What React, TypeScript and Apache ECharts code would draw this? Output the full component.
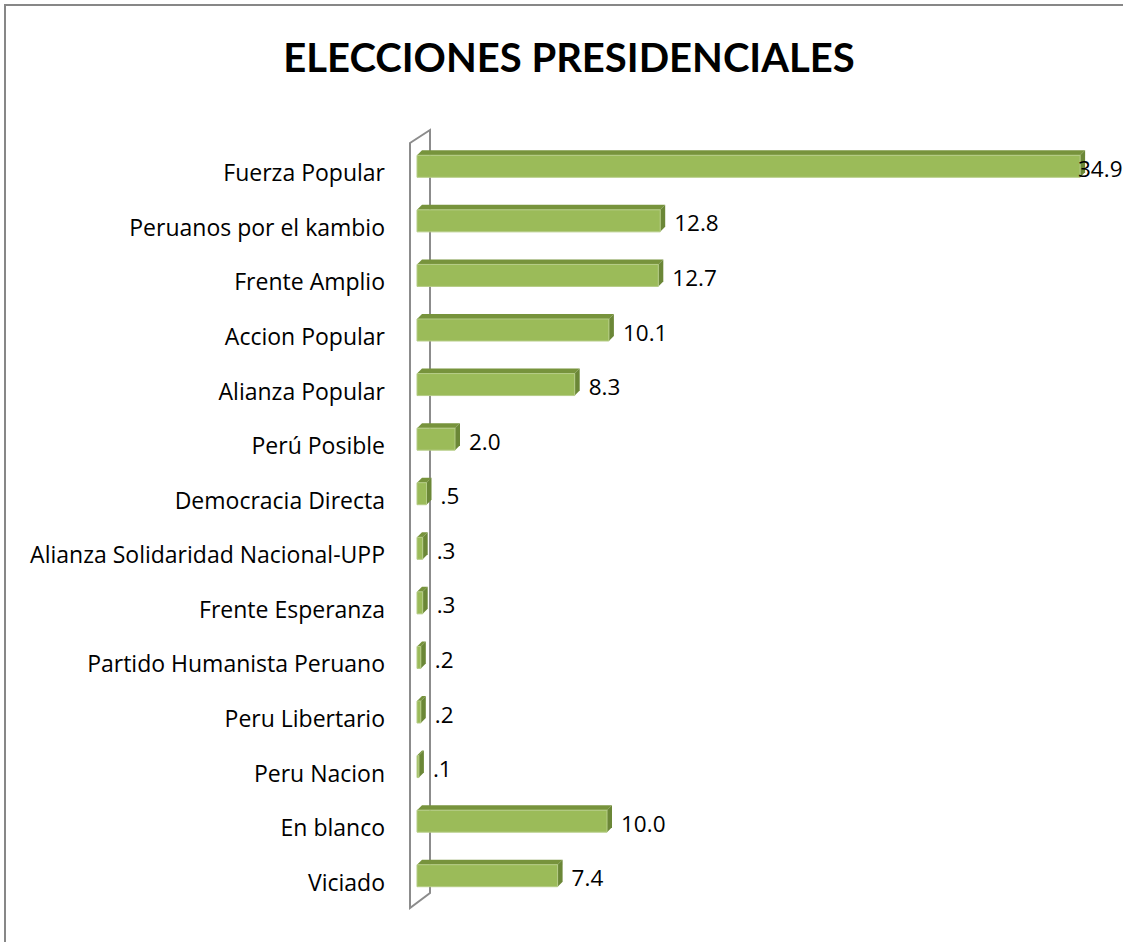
import React, { useEffect, useRef } from "react";
import * as echarts from "echarts";

const categories = [
  "Fuerza Popular",
  "Peruanos por el kambio",
  "Frente Amplio",
  "Accion Popular",
  "Alianza Popular",
  "Perú Posible",
  "Democracia Directa",
  "Alianza Solidaridad Nacional-UPP",
  "Frente Esperanza",
  "Partido Humanista Peruano",
  "Peru Libertario",
  "Peru Nacion",
  "En blanco",
  "Viciado",
];
const values = [34.9, 12.8, 12.7, 10.1, 8.3, 2.0, 0.5, 0.3, 0.3, 0.2, 0.2, 0.1, 10.0, 7.4];
const titleText = "ELECCIONES PRESIDENCIALES";
const axisMax = 35;

const FONT = "'Open Sans', sans-serif";
const TITLE_FONT = "Lato, sans-serif";
const GRID_LEFT = 417;
const GRID_RIGHT = 41;
const GRID_TOP = 139;
const GRID_BOTTOM = 39;

function fmt(v: number) {
  return v.toFixed(1).replace(/^0(?=\.)/, "");
}

export default function App() {
  const ref = useRef<HTMLDivElement>(null);
  useEffect(() => {
    if (!ref.current) return;
    const chart = echarts.init(ref.current, undefined, { renderer: "svg" });
    const H = 942;
    const wallTop = GRID_TOP + 4;
    const wallBottom = H - GRID_BOTTOM + 5;
    const wx = 410;
    chart.setOption({
      animation: false,
      backgroundColor: "#fff",
      graphic: [
        {
          type: "rect",
          z: 0,
          shape: { x: 5, y: 5, width: 1140, height: 960 },
          style: { fill: "none", stroke: "#878787", lineWidth: 2 },
        },
        {
          type: "polygon",
          z: 0,
          shape: {
            points: [
              [wx, wallTop],
              [wx + 20, wallTop - 13],
              [wx + 20, wallBottom - 15],
              [wx, wallBottom],
            ],
          },
          style: { fill: "#fff", stroke: "#8c8c8c", lineWidth: 2 },
        },
        {
          type: "text",
          z: 10,
          x: 569,
          y: 57,
          style: {
            text: titleText,
            font: `bold 40px ${TITLE_FONT}`,
            fill: "#000",
            textAlign: "center",
            textVerticalAlign: "middle",
          },
        },
      ],
      grid: { left: GRID_LEFT, right: GRID_RIGHT, top: GRID_TOP, bottom: GRID_BOTTOM },
      xAxis: {
        type: "value",
        min: 0,
        max: axisMax,
        show: false,
      },
      yAxis: {
        type: "category",
        inverse: true,
        data: categories,
        axisLine: { show: false },
        axisTick: { show: false },
        splitLine: { show: false },
        axisLabel: { show: false },
      },
      series: [
        {
          type: "custom",
          z: 5,
          encode: { x: 0, y: 1 },
          data: values.map((v, i) => [v, i]),
          renderItem: (params: any, api: any) => {
            const v = api.value(0);
            const idx = api.value(1);
            const s = api.coord([0, idx]);
            const e = api.coord([v, idx]);
            const bandH = api.size([0, 1])[1];
            const h = bandH * 0.403;
            const y0 = s[1] - h / 2;
            const y1 = s[1] + h / 2;
            const x0 = s[0];
            const x1 = e[0];
            const dx = 5;
            const dy = 5;
            const lx = Math.min(x1 + dx + 9, 1078);
            return {
              type: "group",
              children: [
                {
                  type: "polygon",
                  shape: { points: [[x0, y0], [x0 + dx, y0 - dy], [x1 + dx, y0 - dy], [x1, y0]] },
                  style: { fill: "#77933C" },
                },
                {
                  type: "polygon",
                  shape: { points: [[x1, y0], [x1 + dx, y0 - dy], [x1 + dx, y1 - dy], [x1, y1]] },
                  style: { fill: "#6B8737" },
                },
                {
                  type: "rect",
                  shape: { x: x0, y: y0, width: Math.max(x1 - x0, 0.5), height: h },
                  style: { fill: "#9BBB59", stroke: "#B5CC86", lineWidth: 1 },
                },
                {
                  type: "text",
                  z2: 10,
                  x: lx,
                  y: s[1] + 2,
                  style: {
                    text: fmt(v),
                    font: `22.5px ${FONT}`,
                    fill: "#000",
                    textAlign: "left",
                    textVerticalAlign: "middle",
                  },
                },
                {
                  type: "text",
                  z2: 10,
                  x: x0 - 32,
                  y: s[1] + 6,
                  style: {
                    text: categories[idx],
                    font: `23px ${FONT}`,
                    fill: "#000",
                    textAlign: "right",
                    textVerticalAlign: "middle",
                  },
                },
              ],
            };
          },
        },
      ],
    });
    return () => chart.dispose();
  }, []);
  return (
    <div
      ref={ref}
      style={{ position: "fixed", left: 0, top: 0, width: 1123, height: 942 }}
    />
  );
}
